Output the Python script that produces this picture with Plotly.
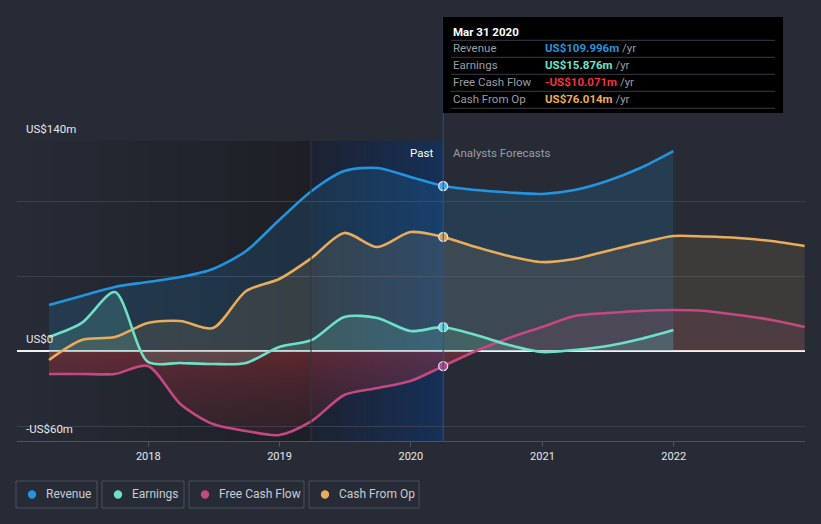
import plotly.graph_objects as go

# ---------------- data ----------------
past_dates = ["2017-03-31", "2017-06-30", "2017-09-30", "2017-12-31",
              "2018-03-31", "2018-06-30", "2018-09-30", "2018-12-31",
              "2019-03-31", "2019-06-30", "2019-09-30", "2019-12-31",
              "2020-03-31"]
forecast_dates = ["2020-06-30", "2020-09-30", "2020-12-31", "2021-03-31",
                  "2021-06-30", "2021-09-30", "2021-12-31", "2022-03-31",
                  "2022-06-30", "2022-09-30", "2022-12-31"]

revenue_past = [30.7, 36.7, 42.7, 46.0, 49.3, 54.7, 66.7, 87.3, 106.7, 120.0, 122.0, 116.0, 109.996]
earnings_past = [9.3, 18.7, 39.3, -7.3, -8.0, -8.7, -8.0, 2.7, 7.3, 22.7, 22.0, 13.3, 15.876]
fcf_past = [-15.3, -15.3, -15.3, -10.0, -35.3, -48.7, -53.3, -56.0, -46.7, -29.3, -24.7, -20.0, -10.071]
cfo_past = [-6.0, 7.3, 9.3, 18.7, 20.0, 15.3, 40.0, 48.0, 62.0, 78.7, 69.3, 79.3, 76.014]

revenue_fc = [107.3, 105.7, 104.7, 107.3, 113.3, 122.0, 133.3]
earnings_fc = [10.7, 4.0, -0.7, 0.7, 3.3, 8.0, 14.0]
fcf_fc = [0.0, 8.7, 16.0, 23.3, 25.3, 26.7, 27.3, 26.7, 24.0, 20.7, 16.0]
cfo_fc = [69.3, 63.3, 59.3, 61.3, 66.7, 72.0, 76.7, 76.3, 75.3, 73.3, 70.0]

series_names = ["Revenue", "Earnings", "Free Cash Flow", "Cash From Op"]
tooltip_values = ["US$109.996m", "US$15.876m", "-US$10.071m", "US$76.014m"]
x_tick_vals = ["2018-01-01", "2019-01-01", "2020-01-01", "2021-01-01", "2022-01-01"]
x_tick_text = ["2018", "2019", "2020", "2021", "2022"]
y_tick_vals = [-60, -50, 0, 50, 100, 140]
y_labels = {140: "US$140m", 0: "US$0", -60: "-US$60m"}
tooltip_title = "Mar 31 2020"

# ---------------- style ----------------
BG = "#262b36"
COL = {"Revenue": "#2394df", "Earnings": "#6ee0c8",
       "Free Cash Flow": "#c5487f", "Cash From Op": "#e9ac5a"}
VAL_COL = ["#2394df", "#6fe3c9", "#f0343c", "#e9ad5b"]
FONT = "Roboto"

W, H = 821, 524
L, R, T, B = 17, 16, 141, 83
PW = W - L - R
PH = H - T - B


def px(x):
    return (x - L) / PW


def py(y):
    return (H - B - y) / PH


def mix(c0, c1, t):
    return "rgb(%d,%d,%d)" % tuple(round(a + (b - a) * t) for a, b in zip(c0, c1))


fig = go.Figure()

data = {
    "Revenue": (past_dates + forecast_dates[:len(revenue_fc)], revenue_past + revenue_fc),
    "Earnings": (past_dates + forecast_dates[:len(earnings_fc)], earnings_past + earnings_fc),
    "Free Cash Flow": (past_dates + forecast_dates[:len(fcf_fc)], fcf_past + fcf_fc),
    "Cash From Op": (past_dates + forecast_dates[:len(cfo_fc)], cfo_past + cfo_fc),
}

fills = {
    "Revenue": "rgba(35,150,225,0.16)",
    "Cash From Op": "rgba(233,172,90,0.12)",
    "Earnings": "rgba(110,224,200,0.16)",
}

# fills first
for name in ["Revenue", "Cash From Op", "Free Cash Flow", "Earnings"]:
    xs, ys = data[name]
    kw = dict(x=xs, y=ys, mode="lines",
              line=dict(width=0, shape="spline", smoothing=0.8),
              fill="tozeroy", hoverinfo="skip", showlegend=False)
    if name == "Free Cash Flow":
        kw["fillgradient"] = dict(
            type="vertical", start=-60, stop=30,
            colorscale=[[0, "rgba(140,40,55,0.12)"],
                        [0.665, "rgba(205,52,62,0.36)"],
                        [0.67, "rgba(197,72,127,0.12)"],
                        [1, "rgba(197,72,127,0.12)"]])
    else:
        kw["fillcolor"] = fills[name]
    fig.add_trace(go.Scatter(**kw))

# lines
for name in ["Cash From Op", "Free Cash Flow", "Earnings", "Revenue"]:
    xs, ys = data[name]
    fig.add_trace(go.Scatter(x=xs, y=ys, mode="lines", name=name,
                             line=dict(color=COL[name], width=2.6, shape="spline", smoothing=0.8),
                             hoverinfo="skip", showlegend=False))

# current-point markers
cur = past_dates[-1]
fig.add_trace(go.Scatter(
    x=[cur] * 4,
    y=[revenue_past[-1], earnings_past[-1], fcf_past[-1], cfo_past[-1]],
    mode="markers", hoverinfo="skip", showlegend=False,
    marker=dict(size=9, color=["#4aa8ea", "#5fd8e0", "#b04a8c", "#d9a35c"],
                line=dict(color="#dde4ec", width=1.3))))

shapes = []
# opaque gradient slices for the past background (drawn below the gridlines)
n = 42
x_a, x_b, x_c = 17, 311, 443
bg_rgb = (38, 43, 54)
dark_rgb = (29, 31, 37)
band0 = (28, 34, 48)
band1 = (22, 48, 87)
for i in range(n):
    a0 = x_a + (x_b - x_a) * i / n
    a1 = x_a + (x_b - x_a) * (i + 1) / n
    shapes.append(dict(type="rect", xref="paper", yref="paper",
                       x0=px(a0), x1=px(min(a1 + 1, x_b)), y0=0, y1=1,
                       fillcolor=mix(bg_rgb, dark_rgb, (i + 0.5) / n),
                       line=dict(width=0), layer="below"))
for i in range(n):
    a0 = x_b + (x_c - x_b) * i / n
    a1 = x_b + (x_c - x_b) * (i + 1) / n
    shapes.append(dict(type="rect", xref="paper", yref="paper",
                       x0=px(a0), x1=px(min(a1 + 1, x_c)), y0=0, y1=1,
                       fillcolor=mix(band0, band1, (i + 0.5) / n),
                       line=dict(width=0), layer="below"))
# band edge line
shapes.append(dict(type="line", xref="paper", yref="paper", x0=px(x_b), x1=px(x_b),
                   y0=0, y1=1, line=dict(color="#2c3648", width=1)))
# current divider line
shapes.append(dict(type="line", xref="x", yref="paper", x0=cur, x1=cur,
                   y0=0, y1=py(17), line=dict(color="#2f5283", width=1)))

# tooltip box
shapes.append(dict(type="rect", xref="paper", yref="paper",
                   x0=px(443), x1=px(783), y0=py(113), y1=py(17),
                   fillcolor="#000000", line=dict(width=0)))
for sy in [40.3, 57.3, 74.3, 91.3, 108.3]:
    shapes.append(dict(type="line", xref="paper", yref="paper",
                       x0=px(451), x1=px(775), y0=py(sy), y1=py(sy),
                       line=dict(color="#3a3d44", width=1)))

annotations = []
annotations.append(dict(xref="paper", yref="paper", x=px(451), y=py(31.5),
                        text="<b>%s</b>" % tooltip_title, showarrow=False,
                        xanchor="left", yanchor="middle",
                        font=dict(family=FONT, size=11.5, color="#ffffff")))
row_y = [47.7, 64.5, 81.7, 99.0]
for i, nm in enumerate(series_names):
    annotations.append(dict(xref="paper", yref="paper", x=px(451), y=py(row_y[i]),
                            text=nm, showarrow=False, xanchor="left", yanchor="middle",
                            font=dict(family=FONT, size=11.5, color="#9a9ea6")))
    annotations.append(dict(xref="paper", yref="paper", x=px(542.5), y=py(row_y[i]),
                            text="<b><span style='color:%s'>%s</span></b> /yr" % (VAL_COL[i], tooltip_values[i]),
                            showarrow=False, xanchor="left", yanchor="middle",
                            font=dict(family=FONT, size=11.5, color="#9a9ea6")))

# Past / Analysts Forecasts
annotations.append(dict(xref="paper", yref="paper", x=px(435), y=py(153),
                        text="Past", showarrow=False, xanchor="right", yanchor="middle",
                        font=dict(family=FONT, size=11.5, color="#ffffff")))
annotations.append(dict(xref="paper", yref="paper", x=px(451), y=py(153),
                        text="Analysts Forecasts", showarrow=False, xanchor="left", yanchor="middle",
                        font=dict(family=FONT, size=11.5, color="#9a9ea6")))

# y labels
for v, t in y_labels.items():
    annotations.append(dict(xref="paper", yref="y", x=px(24), y=v, yshift=12,
                            text=t, showarrow=False, xanchor="left", yanchor="middle",
                            font=dict(family=FONT, size=11.5, color="#e6e8eb")))

# custom legend
boxes = [(16, 97), (102, 184), (189, 304), (309, 419)]
dots = [32, 118, 205, 325]
texts_x = [44, 130, 217, 337]
for i, nm in enumerate(series_names):
    x0, x1 = boxes[i]
    shapes.append(dict(type="rect", xref="paper", yref="paper",
                       x0=px(x0), x1=px(x1), y0=py(508), y1=py(481),
                       line=dict(color="#4b515e", width=1), fillcolor="rgba(0,0,0,0)"))
    r = 4.2
    shapes.append(dict(type="circle", xref="paper", yref="paper",
                       x0=px(dots[i] - r), x1=px(dots[i] + r),
                       y0=py(494.5 + r), y1=py(494.5 - r),
                       fillcolor=COL[nm], line=dict(width=0)))
    annotations.append(dict(xref="paper", yref="paper", x=px(texts_x[i]), y=py(494.5),
                            text=nm, showarrow=False, xanchor="left", yanchor="middle",
                            font=dict(family=FONT, size=12, color="#c9ccd1")))

fig.update_layout(
    width=W, height=H,
    margin=dict(l=L, r=R, t=T, b=B, pad=0, autoexpand=False),
    paper_bgcolor=BG, plot_bgcolor=BG,
    showlegend=False,
    shapes=shapes, annotations=annotations,
    font=dict(family=FONT, color="#e6e8eb"),
    xaxis=dict(type="date", range=["2017-01-01", "2023-01-01"],
               showgrid=False, zeroline=False, automargin=False,
               tickvals=x_tick_vals, ticktext=x_tick_text,
               ticks="outside", ticklen=5, tickcolor="#4b5263",
               showline=True, linecolor="#4b5263", linewidth=1,
               tickfont=dict(family=FONT, size=11, color="#e6e8eb")),
    yaxis=dict(range=[-60, 140], tickvals=y_tick_vals, showticklabels=False,
               gridcolor="#3a4050", gridwidth=1, automargin=False,
               zeroline=True, zerolinecolor="#f2f2f2", zerolinewidth=1.5,
               fixedrange=True),
)

fig.write_html("out.html")
